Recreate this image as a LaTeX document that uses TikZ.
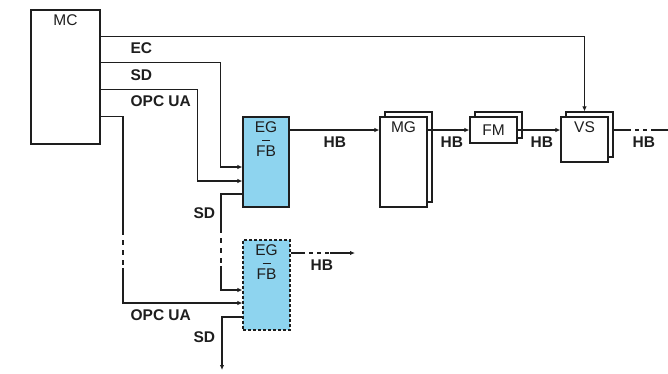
\documentclass[tikz,border=0pt]{standalone}
\usepackage{fontspec}
\setmainfont{Liberation Sans}
\usetikzlibrary{arrows.meta,shadows}
\definecolor{egblue}{HTML}{8ED4EF}
\definecolor{linegray}{HTML}{1E1E1E}

\begin{document}
\begin{tikzpicture}[x=1pt,y=-1pt,>={Latex[length=5pt,width=4.5pt]},line width=1.2pt,color=linegray,
  box/.style={draw,fill=white,inner sep=0pt,font=\fontsize{15.5}{22}\selectfont},
  toptext/.style={label={[anchor=north,inner sep=0pt,yshift=-5pt,align=center,font=\fontsize{15.5}{23.5}\selectfont]north:#1}},
  stack/.style={copy shadow={shadow xshift=5pt,shadow yshift=5pt}},
  gap/.style={dash pattern=on 5pt off 5pt,dash phase=5pt},
  lbl/.style={anchor=west,inner sep=0pt,font=\fontsize{15.5}{17}\selectfont\bfseries}]
  \useasboundingbox (0,0) rectangle (668,373);
  % Master controller
  \node (mc) [box,minimum width=69pt,minimum height=134pt,toptext=MC] at (65.5,77) {};
  % EG/FB blocks
  \node (egfb) [box,fill=egblue,minimum width=46pt,minimum height=90pt,toptext={EG\\FB}] at (266,162) {};
  \node (egfbb) [box,fill=egblue,dash pattern=on 3pt off 2pt,minimum width=47pt,minimum height=90pt,toptext={EG\\FB}] at (266.5,285) {};
  \draw[line width=1pt] ([xshift=-4pt,yshift=-24pt]egfb.north) -- ([xshift=4pt,yshift=-24pt]egfb.north);
  \draw[line width=1pt] ([xshift=-4pt,yshift=-24pt]egfbb.north) -- ([xshift=4pt,yshift=-24pt]egfbb.north);
  % Processing chain
  \node (mg) [box,stack,minimum width=47pt,minimum height=90pt,toptext=MG] at (403.5,162) {};
  \node (fm) [box,stack,minimum width=47pt,minimum height=26pt] at (493.5,130) {FM};
  \node (vs) [box,stack,minimum width=47pt,minimum height=45pt,toptext=VS] at (584.5,139.5) {};
  % break points
  \coordinate (opcbreak1) at (123,235);
  \coordinate (opcbreak2) at (123,268);
  \coordinate (sdbreak1) at (221,233);
  \coordinate (sdbreak2) at (221,266);
  \coordinate (sdend) at (222,370);
  \coordinate (hbbreak1) at (631,130);
  \coordinate (hbbreak2) at (655,130);
  \coordinate (hbend) at (668,130);
  \coordinate (hbbreak3) at (305,253);
  \coordinate (hbbreak4) at (330,253);
  \coordinate (hbend2) at (355,253);
  % lines from MC
  \draw[->] ([yshift=-27pt]mc.north east) -| ([yshift=5pt]vs.north);
  \draw[->] ([yshift=-53pt]mc.north east) -| ([xshift=-22pt,yshift=-5pt]egfb.west) -- ([yshift=-5pt]egfb.west);
  \draw[->] ([yshift=-80pt]mc.north east) -| ([xshift=-45pt,yshift=-19pt]egfb.west) -- ([yshift=-19pt]egfb.west);
  \draw ([yshift=-107pt]mc.north east) -| (opcbreak1);
  \draw[gap] (opcbreak1) -- (opcbreak2);
  \draw[->] (opcbreak2) |- ([yshift=-18pt]egfbb.west);
  % SD chain
  \draw ([yshift=-32pt]egfb.west) -| (sdbreak1);
  \draw[gap] (sdbreak1) -- (sdbreak2);
  \draw[->] (sdbreak2) |- ([yshift=-5pt]egfbb.west);
  \draw[->] ([yshift=-32pt]egfbb.west) -| (sdend);
  % HB chain
  \draw[->] ([yshift=32pt]egfb.east) -- ([yshift=32pt]mg.west);
  \draw[->] ([yshift=32pt]mg.east) -- (fm.west);
  \draw[->] (fm.east) -- ([yshift=9.5pt]vs.west);
  \draw ([xshift=5pt,yshift=9.5pt]vs.east) -- (hbbreak1);
  \draw[dash pattern=on 4pt off 4pt,dash phase=4pt] (hbbreak1) -- (hbbreak2);
  \draw (hbbreak2) -- (hbend);
  \draw ([yshift=32pt]egfbb.east) -- (hbbreak3);
  \draw[dash pattern=on 4pt off 4pt,dash phase=4pt] (hbbreak3) -- (hbbreak4);
  \draw[->] (hbbreak4) -- (hbend2);
  % labels
  \node (lec) [lbl] at (130,48) {EC};
  \node (lsd) [lbl] at (130,75) {SD};
  \node (lopc) [lbl] at (130,101) {OPC UA};
  \node (lhbmg) [lbl] at (323,142) {HB};
  \node (lhbfm) [lbl] at (440,142) {HB};
  \node (lhbvs) [lbl] at (530,142) {HB};
  \node (lhbout) [lbl] at (632,142) {HB};
  \node (lsdeg) [lbl] at (193,213) {SD};
  \node (lhbeg) [lbl] at (310,265) {HB};
  \node (lopcb) [lbl] at (130,315) {OPC UA};
  \node (lsdb) [lbl] at (193,337) {SD};
\end{tikzpicture}
\end{document}
